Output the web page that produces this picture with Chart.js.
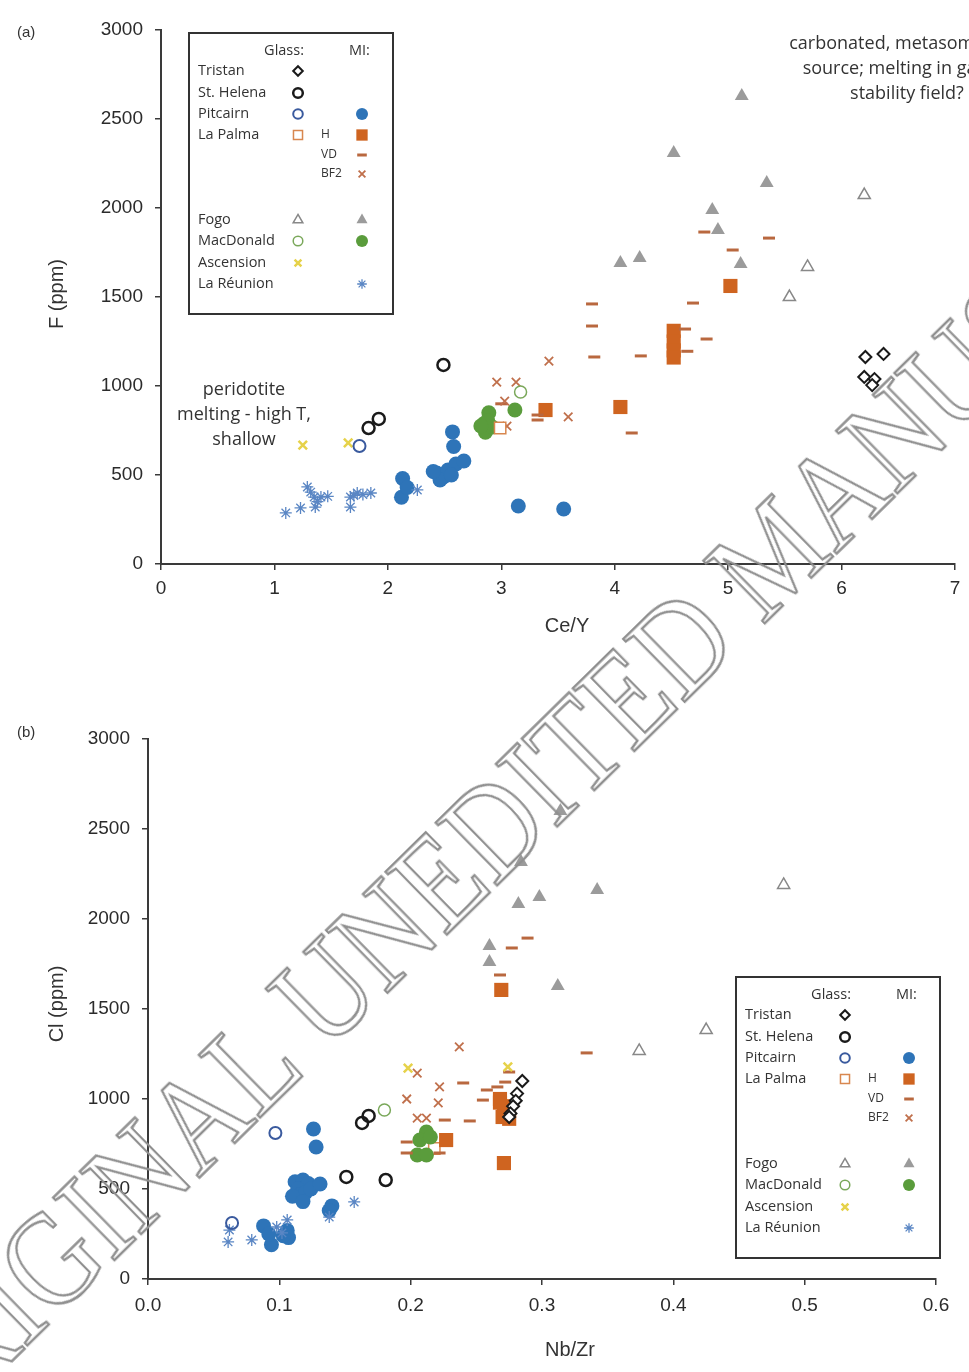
<!DOCTYPE html>
<html>
<head>
<meta charset="utf-8">
<title>F and Cl versus Ce/Y and Nb/Zr</title>
<script src="https://cdn.jsdelivr.net/npm/chart.js@4.4.1/dist/chart.umd.min.js"></script>
<style>
  html, body { margin: 0; padding: 0; background: #fff; }
  #page { position: relative; width: 969px; height: 1372px; overflow: hidden; }
  #page canvas { position: absolute; left: 0; }
  #chartA { top: 0; }
  #chartB { top: 686px; }
  #stamp {
    position: absolute; left: 570px; top: 751px;
    transform: translate(-50%, -50%) rotate(-44.4deg) scaleX(0.86);
    font-family: "Liberation Serif", "DejaVu Serif", serif; font-size: 134px; line-height: 1;
    white-space: nowrap; color: transparent;
    -webkit-text-stroke: 2.5px #8f8f8f; pointer-events: none;
  }
</style>
</head>
<body>
<div id="page">
  <canvas id="chartA" width="969" height="686"></canvas>
  <canvas id="chartB" width="969" height="686"></canvas>
  <div id="stamp">ORIGINAL UNEDITED MANUSCRIPT</div>
</div>
<script>
// ---- panel (a): Ce/Y vs F (ppm) ----
const ceYTicks = [0, 1, 2, 3, 4, 5, 6, 7];
const fTicks = [0, 500, 1000, 1500, 2000, 2500, 3000];

const tristanGlassA = [[6.21, 1163], [6.37, 1180], [6.20, 1051], [6.29, 1039], [6.27, 1005]];
const stHelenaGlassA = [[2.49, 1118], [1.83, 764], [1.92, 815]];
const pitcairnGlassA = [[1.75, 663]];
const pitcairnMiA = [[2.13, 480], [2.12, 375], [2.17, 430], [2.43, 511], [2.49, 489], [2.53, 528],
  [2.60, 562], [2.67, 579], [2.46, 472], [2.56, 500], [2.40, 520], [2.57, 742], [2.58, 660],
  [3.15, 326], [3.55, 309]];
const laPalmaGlassA = [[2.99, 764]];
const laPalmaHA = [[5.02, 1562], [4.52, 1310], [4.52, 1250], [4.52, 1200], [4.52, 1160], [4.05, 882], [3.39, 865]];
const laPalmaVDA = [[3.80, 1461], [4.79, 1865], [5.36, 1831], [5.04, 1764], [4.69, 1466], [3.80, 1337],
  [3.82, 1163], [4.23, 1169], [4.62, 1320], [4.64, 1195], [4.81, 1264], [4.15, 736], [3.32, 809],
  [3.32, 837], [3.00, 900]];
const laPalmaBF2A = [[2.96, 1022], [3.13, 1022], [3.42, 1140], [3.59, 826], [3.05, 775], [3.03, 915]];
const fogoGlassA = [[6.20, 2073], [5.70, 1669], [5.54, 1500]];
const fogoMiA = [[5.12, 2629], [4.52, 2309], [5.34, 2140], [4.86, 1989], [4.91, 1876], [4.05, 1691],
  [4.22, 1719], [5.11, 1685]];
const macdonaldGlassA = [[3.17, 966]];
const macdonaldMiA = [[2.89, 850], [2.85, 790], [2.88, 805], [2.86, 740], [2.92, 770], [3.12, 865], [2.82, 775]];
const ascensionGlassA = [[1.25, 668], [1.65, 680]];
const reunionMiA = [[1.10, 287], [1.23, 315], [1.29, 433], [1.32, 404], [1.35, 376], [1.36, 320],
  [1.41, 376], [1.47, 380], [1.38, 350], [1.67, 320], [1.67, 376], [1.73, 399], [1.78, 390],
  [1.85, 399], [1.70, 385], [2.26, 416]];

// ---- panel (b): Nb/Zr vs Cl (ppm) ----
const nbZrTicks = [0, 0.1, 0.2, 0.3, 0.4, 0.5, 0.6];
const clTicks = [0, 500, 1000, 1500, 2000, 2500, 3000];

const tristanGlassB = [[0.285, 1100], [0.281, 1030], [0.280, 990], [0.278, 960], [0.276, 920], [0.275, 900]];
const stHelenaGlassB = [[0.163, 867], [0.168, 906], [0.151, 567], [0.181, 550]];
const pitcairnGlassB = [[0.097, 811], [0.064, 311]];
const pitcairnMiB = [[0.126, 833], [0.128, 733], [0.112, 540], [0.118, 550], [0.122, 530], [0.114, 500],
  [0.116, 470], [0.120, 480], [0.110, 460], [0.118, 430], [0.124, 500], [0.131, 528], [0.140, 406],
  [0.138, 380], [0.088, 295], [0.094, 190], [0.106, 270], [0.107, 230], [0.103, 240], [0.092, 250]];
const laPalmaGlassB = [[0.218, 725]];
const laPalmaHB = [[0.269, 1606], [0.271, 644], [0.227, 772], [0.268, 1000], [0.271, 960], [0.273, 930],
  [0.270, 900], [0.275, 890], [0.268, 980]];
const laPalmaVDB = [[0.289, 1894], [0.277, 1839], [0.268, 1689], [0.334, 1256], [0.240, 1089], [0.258, 1050],
  [0.255, 994], [0.272, 1094], [0.266, 1067], [0.226, 883], [0.245, 878], [0.197, 761], [0.197, 700],
  [0.222, 700], [0.275, 1150]];
const laPalmaBF2B = [[0.237, 1289], [0.205, 1144], [0.222, 1067], [0.197, 1000], [0.221, 978], [0.205, 894], [0.212, 894]];
const fogoGlassB = [[0.484, 2189], [0.425, 1383], [0.374, 1267]];
const fogoMiB = [[0.314, 2600], [0.284, 2317], [0.298, 2122], [0.282, 2083], [0.342, 2161], [0.260, 1850],
  [0.260, 1761], [0.312, 1628]];
const macdonaldGlassB = [[0.180, 939]];
const macdonaldMiB = [[0.212, 817], [0.207, 772], [0.205, 689], [0.212, 689], [0.215, 789]];
const ascensionGlassB = [[0.198, 1172], [0.274, 1178]];
const reunionMiB = [[0.157, 428], [0.138, 344], [0.061, 206], [0.062, 272], [0.079, 217], [0.098, 289],
  [0.106, 328], [0.102, 256]];

// marker look per sample group
const MARKS = {
  tristan:       { style: 'rectRot', r: 6, lw: 2, stroke: '#1a1a1a', fill: '#fff' },
  stHelena:      { style: 'circle', r: 6, lw: 2.5, stroke: '#1a1a1a', fill: 'rgba(255,255,255,0)' },
  pitcairnGlass: { style: 'circle', r: 6, lw: 2, stroke: '#3a5a9e', fill: 'rgba(255,255,255,0)' },
  pitcairnMi:    { style: 'circle', r: 7.5, lw: 0, fill: '#2e74b8' },
  laPalmaGlass:  { style: 'rect', r: 8, lw: 1.5, stroke: '#d8874f', fill: '#fff' },
  laPalmaH:      { style: 'rect', r: 10, lw: 0, fill: '#cf6420' },
  laPalmaVD:     { style: 'line', r: 6, lw: 3, stroke: '#b9683f' },
  laPalmaBF2:    { style: 'crossRot', r: 6, lw: 1.8, stroke: '#c0704c' },
  fogoGlass:     { style: 'triangle', r: 7, lw: 1.5, stroke: '#888', fill: '#fff' },
  fogoMi:        { style: 'triangle', r: 8, lw: 0, fill: '#9b9b9b' },
  macdonaldGlass:{ style: 'circle', r: 6, lw: 1.5, stroke: '#7aa85a', fill: 'rgba(255,255,255,0)' },
  macdonaldMi:   { style: 'circle', r: 7.5, lw: 0, fill: '#5a9c3c' },
  ascension:     { style: 'crossRot', r: 6, lw: 2.5, stroke: '#e6d24a' },
  reunion:       { style: 'star', r: 6, lw: 1.3, stroke: '#5a86c4' },
};

// key rows: name, glass symbol, sub-label, melt inclusion symbol
const keyRows = [
  ['Tristan', 'tristan', '', ''],
  ['St. Helena', 'stHelena', '', ''],
  ['Pitcairn', 'pitcairnGlass', '', 'pitcairnMi'],
  ['La Palma', 'laPalmaGlass', 'H', 'laPalmaH'],
  ['', '', 'VD', 'laPalmaVD'],
  ['', '', 'BF2', 'laPalmaBF2'],
  ['Fogo', 'fogoGlass', '', 'fogoMi'],
  ['MacDonald', 'macdonaldGlass', '', 'macdonaldMi'],
  ['Ascension', 'ascension', '', ''],
  ['La Réunion', '', '', 'reunion'],
];
const keyRowY = [38, 60, 81, 102, 122, 141, 187, 208, 230, 251];

function scatterSet(label, points, markName) {
  const m = MARKS[markName];
  return {
    label,
    data: points.map(([x, y]) => ({ x, y })),
    pointStyle: m.style,
    pointRadius: m.r,
    pointHoverRadius: m.r,
    pointBorderWidth: m.lw,
    pointBorderColor: m.stroke || 'rgba(0,0,0,0)',
    pointBackgroundColor: m.fill || 'rgba(0,0,0,0)',
  };
}

function drawMark(ctx, markName, x, y, scale) {
  const m = MARKS[markName];
  ctx.save();
  ctx.fillStyle = m.fill || 'rgba(0,0,0,0)';
  ctx.strokeStyle = m.stroke || 'rgba(0,0,0,0)';
  ctx.lineWidth = m.lw;
  Chart.helpers.drawPoint(ctx, { pointStyle: m.style, radius: m.r * scale, borderWidth: m.lw, rotation: 0 }, x, y);
  ctx.restore();
}

function drawKey(ctx, left, top) {
  ctx.save();
  ctx.fillStyle = '#fff';
  ctx.fillRect(left, top, 204, 281);
  ctx.strokeStyle = '#333';
  ctx.lineWidth = 2;
  ctx.strokeRect(left, top, 204, 281);
  ctx.fillStyle = '#333';
  ctx.textBaseline = 'middle';
  ctx.font = '14.5px "Open Sans"';
  ctx.textAlign = 'right';
  ctx.fillText('Glass:', left + 115, top + 18);
  ctx.textAlign = 'left';
  ctx.fillText('MI:', left + 160, top + 18);
  keyRows.forEach(([name, glass, sub, mi], i) => {
    const y = top + keyRowY[i];
    if (name) { ctx.font = '14.5px "Open Sans"'; ctx.fillText(name, left + 9, y); }
    if (sub) { ctx.font = '12px "Open Sans"'; ctx.fillText(sub, left + 132, y); }
    if (glass) drawMark(ctx, glass, left + 109, y, 0.8);
    if (mi) drawMark(ctx, mi, left + 173, y, 0.8);
  });
  ctx.restore();
}

// panel letter, axis titles, notes and key
const panelDecor = {
  id: 'panelDecor',
  afterDraw(chart, args, o) {
    const ctx = chart.ctx;
    ctx.save();
    ctx.fillStyle = '#333';
    ctx.textBaseline = 'middle';
    ctx.textAlign = 'left';
    ctx.font = '15px "Liberation Sans"';
    ctx.fillText(o.tag, 17, o.tagY);
    ctx.font = '20px "Liberation Sans"';
    ctx.textAlign = 'center';
    ctx.fillText(o.xTitle, o.xTitleX, o.xTitleY);
    ctx.save();
    ctx.translate(57, o.yTitleY);
    ctx.rotate(-Math.PI / 2);
    ctx.fillText(o.yTitle, 0, 0);
    ctx.restore();
    ctx.font = '18px "Open Sans"';
    (o.notes || []).forEach(n => n.lines.forEach((t, i) => ctx.fillText(t, n.x, n.y + i * 25)));
    ctx.restore();
    drawKey(ctx, o.keyX, o.keyY);
  }
};

function axisOptions(ticks, fmt, extra) {
  return Object.assign({
    type: 'linear',
    min: ticks[0],
    max: ticks[ticks.length - 1],
    afterBuildTicks: s => { s.ticks = ticks.map(v => ({ value: v })); },
    border: { display: true, color: '#3a3a3a', width: 2 },
    grid: { display: true, drawOnChartArea: false, drawTicks: true, tickLength: 6, color: '#3a3a3a', lineWidth: 1.5 },
    ticks: {
      autoSkip: false, maxRotation: 0, color: '#2b2b2b',
      font: { family: 'Liberation Sans', size: 19 },
      callback: v => fmt(v),
    },
  }, extra);
}

function makePanel(canvasId, sets, cfg) {
  return new Chart(document.getElementById(canvasId), {
    type: 'scatter',
    data: { datasets: sets },
    options: {
      responsive: false,
      animation: false,
      events: [],
      layout: { padding: { left: 0, right: cfg.padRight, top: cfg.padTop, bottom: 0 } },
      scales: {
        x: axisOptions(cfg.xTicks, cfg.xFmt, {
          position: 'bottom',
          afterFit: s => { s.height = 686 - cfg.plotBottom; },
          ticks: Object.assign(axisOptions(cfg.xTicks, cfg.xFmt).ticks, { padding: cfg.xTickPad }),
        }),
        y: axisOptions(cfg.yTicks, v => String(v), {
          position: 'left',
          afterFit: s => { s.width = cfg.plotLeft; },
          ticks: Object.assign(axisOptions(cfg.yTicks, v => String(v)).ticks, { padding: 12 }),
        }),
      },
      plugins: {
        legend: { display: false },
        tooltip: { enabled: false },
        panelDecor: cfg.decor,
      },
    },
    plugins: [panelDecor],
  });
}

makePanel('chartA', [
  scatterSet('Tristan glass', tristanGlassA, 'tristan'),
  scatterSet('St. Helena glass', stHelenaGlassA, 'stHelena'),
  scatterSet('Pitcairn glass', pitcairnGlassA, 'pitcairnGlass'),
  scatterSet('MacDonald glass', macdonaldGlassA, 'macdonaldGlass'),
  scatterSet('La Palma glass', laPalmaGlassA, 'laPalmaGlass'),
  scatterSet('Ascension glass', ascensionGlassA, 'ascension'),
  scatterSet('Fogo glass', fogoGlassA, 'fogoGlass'),
  scatterSet('La Palma BF2', laPalmaBF2A, 'laPalmaBF2'),
  scatterSet('La Palma VD', laPalmaVDA, 'laPalmaVD'),
  scatterSet('La Réunion MI', reunionMiA, 'reunion'),
  scatterSet('La Palma H', laPalmaHA, 'laPalmaH'),
  scatterSet('Pitcairn MI', pitcairnMiA, 'pitcairnMi'),
  scatterSet('MacDonald MI', macdonaldMiA, 'macdonaldMi'),
  scatterSet('Fogo MI', fogoMiA, 'fogoMi'),
], {
  xTicks: ceYTicks, yTicks: fTicks, xFmt: v => String(v),
  plotLeft: 161, padRight: 14, padTop: 30, plotBottom: 564, xTickPad: 7,
  decor: {
    tag: '(a)', tagY: 33,
    xTitle: 'Ce/Y', xTitleX: 567, xTitleY: 626,
    yTitle: 'F (ppm)', yTitleY: 294,
    keyX: 189, keyY: 33,
    notes: [
      { x: 907, y: 44, lines: ['carbonated, metasomatized', 'source; melting in garnet', 'stability field?'] },
      { x: 244, y: 390, lines: ['peridotite', 'melting - high T,', 'shallow'] },
    ],
  },
});

makePanel('chartB', [
  scatterSet('Tristan glass', tristanGlassB, 'tristan'),
  scatterSet('St. Helena glass', stHelenaGlassB, 'stHelena'),
  scatterSet('Pitcairn glass', pitcairnGlassB, 'pitcairnGlass'),
  scatterSet('MacDonald glass', macdonaldGlassB, 'macdonaldGlass'),
  scatterSet('Ascension glass', ascensionGlassB, 'ascension'),
  scatterSet('Fogo glass', fogoGlassB, 'fogoGlass'),
  scatterSet('La Palma BF2', laPalmaBF2B, 'laPalmaBF2'),
  scatterSet('La Palma VD', laPalmaVDB, 'laPalmaVD'),
  scatterSet('La Réunion MI', reunionMiB, 'reunion'),
  scatterSet('La Palma H', laPalmaHB, 'laPalmaH'),
  scatterSet('MacDonald MI', macdonaldMiB, 'macdonaldMi'),
  scatterSet('La Palma glass', laPalmaGlassB, 'laPalmaGlass'),
  scatterSet('Pitcairn MI', pitcairnMiB, 'pitcairnMi'),
  scatterSet('Fogo MI', fogoMiB, 'fogoMi'),
], {
  xTicks: nbZrTicks, yTicks: clTicks, xFmt: v => v.toFixed(1),
  plotLeft: 148, padRight: 33, padTop: 53, plotBottom: 593, xTickPad: 9,
  decor: {
    tag: '(b)', tagY: 47,
    xTitle: 'Nb/Zr', xTitleX: 570, xTitleY: 664,
    yTitle: 'Cl (ppm)', yTitleY: 318,
    keyX: 736, keyY: 291,
  },
});
</script>
</body>
</html>
